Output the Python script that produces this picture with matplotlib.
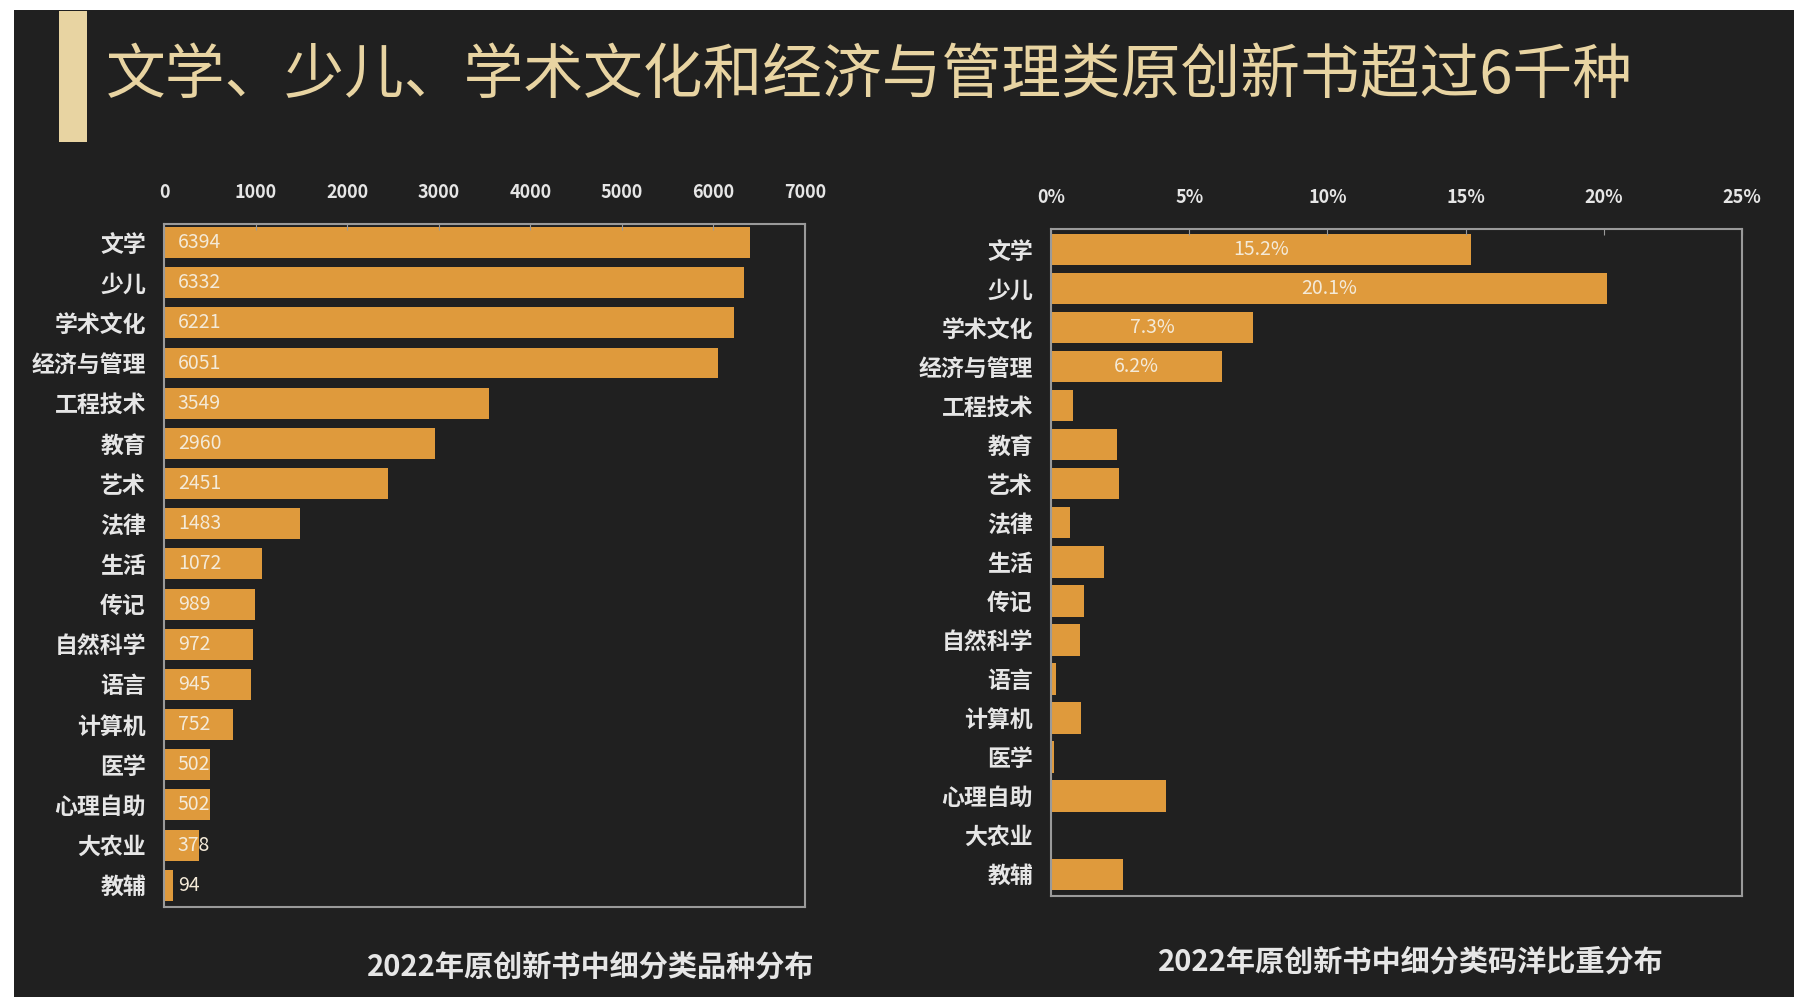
import matplotlib
matplotlib.use("Agg")
import matplotlib.pyplot as plt
from matplotlib.patches import Rectangle
from matplotlib.ticker import FuncFormatter

plt.rcParams['font.family'] = ['Noto Sans CJK SC', 'DejaVu Sans']

# data
categories = ["文学", "少儿", "学术文化", "经济与管理", "工程技术", "教育", "艺术", "法律",
              "生活", "传记", "自然科学", "语言", "计算机", "医学", "心理自助", "大农业", "教辅"]
title_counts = [6394, 6332, 6221, 6051, 3549, 2960, 2451, 1483,
                1072, 989, 972, 945, 752, 502, 502, 378, 94]
value_share = [15.2, 20.1, 7.3, 6.2, 0.8, 2.4, 2.45, 0.7,
               1.9, 1.2, 1.05, 0.17, 1.1, 0.12, 4.15, 0.05, 2.6]
share_labeled = [True, True, True, True] + [False] * 13

title = "文学、少儿、学术文化和经济与管理类原创新书超过6千种"
caption_left = "2022年原创新书中细分类品种分布"
caption_right = "2022年原创新书中细分类码洋比重分布"

bg = "#202020"
bar_color = "#df9a3c"
text_color = "#e6e6e6"
gold = "#e8d4a2"
frame_color = "#9a9a9a"

fig = plt.figure(figsize=(17.94, 9.97), dpi=100, facecolor="white")
fig.patches.append(Rectangle((14 / 1794, 0), 1, 1 - 10 / 997, transform=fig.transFigure,
                             facecolor=bg, edgecolor="none", zorder=-10))
fig.patches.append(Rectangle((59 / 1794, 1 - 142 / 997), 28 / 1794, 131 / 997,
                             transform=fig.transFigure, facecolor=gold, edgecolor="none"))
fig.text(106 / 1794, 1 - 76 / 997, title, color=gold, fontsize=43, fontweight="medium",
         va="center", ha="left")


def style_axes(ax):
    ax.set_facecolor(bg)
    for s in ax.spines.values():
        s.set_color(frame_color)
        s.set_linewidth(1.5)
    ax.xaxis.tick_top()
    ax.tick_params(axis="x", colors=frame_color, labelcolor=text_color, labelsize=13,
                   direction="in", length=4, pad=16)
    ax.tick_params(axis="y", length=0, labelcolor=text_color, labelsize=16.5, pad=13)
    for lab in ax.get_yticklabels() + ax.get_xticklabels():
        lab.set_fontweight("bold")


ypos = list(range(len(categories)))

# left chart
ax1 = fig.add_axes([164 / 1794, 1 - 907 / 997, 641 / 1794, 683 / 997])
ax1.barh(ypos, title_counts, height=0.77, color=bar_color)
ax1.set_xlim(0, 7000)
ax1.set_ylim(16.54, -0.46)
ax1.set_xticks(range(0, 7001, 1000))
ax1.set_yticks(ypos)
ax1.set_yticklabels(categories)
style_axes(ax1)
for y, v in zip(ypos, title_counts):
    ax1.annotate(str(v), (0, y), xytext=(10, 0), textcoords="offset points",
                 va="center", ha="left", color="#f4ead8", fontsize=14)

# right chart
ax2 = fig.add_axes([1051 / 1794, 1 - 896 / 997, 691 / 1794, 667 / 997])
ax2.barh(ypos, value_share, height=0.8, color=bar_color)
ax2.set_xlim(0, 25)
ax2.set_ylim(16.56, -0.53)
ax2.set_xticks(range(0, 26, 5))
ax2.xaxis.set_major_formatter(FuncFormatter(lambda v, p: f"{v:.0f}%"))
ax2.set_yticks(ypos)
ax2.set_yticklabels(categories)
style_axes(ax2)
for y, v, show in zip(ypos, value_share, share_labeled):
    if show:
        ax2.text(v / 2, y, f"{v:.1f}%", va="center", ha="center", color="#f4ead8", fontsize=14)

fig.text(591 / 1794, 1 - 967 / 997, caption_left, color=text_color, fontsize=21,
         fontweight="bold", ha="center", va="center")
fig.text(1411 / 1794, 1 - 962 / 997, caption_right, color=text_color, fontsize=21,
         fontweight="bold", ha="center", va="center")

fig.savefig("out.png", dpi=100, facecolor=fig.get_facecolor())
